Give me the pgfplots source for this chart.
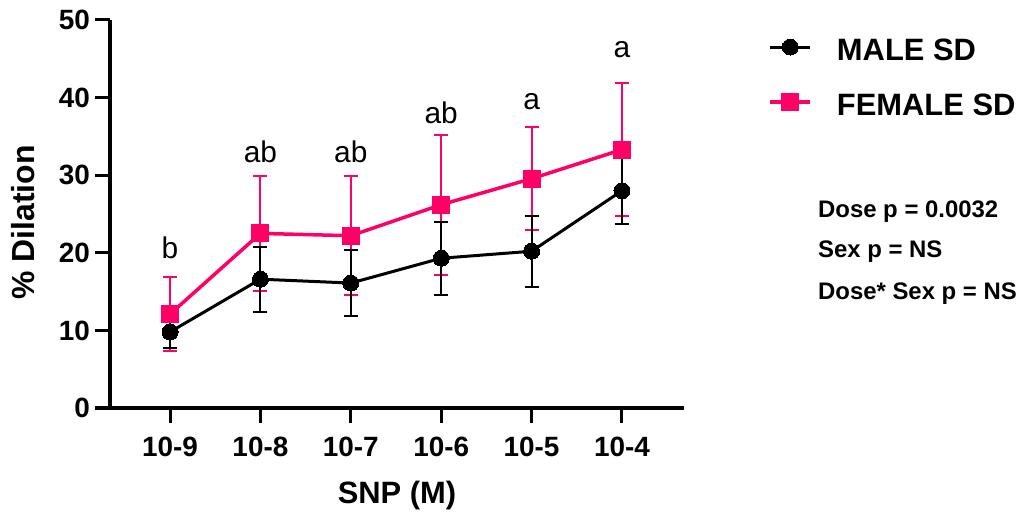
\documentclass[border=0pt]{standalone}
\usepackage{fontspec}
\setmainfont{Liberation Sans}
\usepackage{pgfplots}
\pgfplotsset{compat=1.18}
\definecolor{fpink}{RGB}{255,0,102}

\pgfplotstableread{
x y e
0 9.8 2.1
1 16.6 4.2
2 16.1 4.2
3 19.3 4.7
4 20.2 4.6
5 28.0 4.35
}\male
\pgfplotstableread{
x y e
0 12.1 4.8
1 22.5 7.4
2 22.2 7.7
3 26.2 9.0
4 29.55 6.65
5 33.3 8.55
}\female

\begin{document}
\begin{tikzpicture}
\path[use as bounding box] (0,0) rectangle (1021bp,513bp);
\begin{axis}[
  at={(110bp,105bp)}, anchor=south west,
  scale only axis, width=574bp, height=388bp,
  xmin=-0.664, xmax=5.686, ymin=0, ymax=50,
  axis x line=bottom, axis y line=left,
  axis line style={line width=3bp, -},
  xtick={0,...,5}, xticklabels={10-9,10-8,10-7,10-6,10-5,10-4},
  ytick={0,10,...,50},
  tick align=outside, major tick length=15bp,
  tick style={line width=3bp, black},
  /pgf/number format/assume math mode=true,
  ticklabel style={font=\fontsize{28}{28}\selectfont\bfseries},
  xticklabel style={inner sep=0pt, anchor=north, yshift=-14bp},
  yticklabel style={inner sep=0pt, anchor=east, xshift=-5bp},
  clip=false,
  xlabel={SNP (M)},
  ylabel={\% Dilation},
  every axis x label/.style={at={(rel axis cs:0.5,0)}, anchor=base, yshift=-95bp, inner sep=0pt, font=\fontsize{31}{31}\selectfont\bfseries},
  every axis y label/.style={at={(rel axis cs:-0.1307,0.478)}, rotate=90, anchor=base, inner sep=0pt, font=\fontsize{32}{32}\selectfont\bfseries},
  reverse legend=true,
  legend cell align=left,
  legend image code/.code={\draw[#1, mark repeat=2, mark phase=2] plot coordinates {(0bp,0bp) (20bp,0bp) (40bp,0bp)};},
  legend style={draw=none, fill=none, at={(rel axis cs:1.1472,0.9639)}, anchor=north west,
    inner sep=0pt, outer sep=0pt, row sep=29bp, column sep=25bp,
    font=\fontsize{31}{31}\selectfont\bfseries,
    nodes={inner sep=0pt, text height=26bp, text depth=0bp}},
]
\addplot[color=fpink, line width=3.5bp, mark=square*, mark size=8.5bp, mark options={line width=0pt, fill=fpink},
  error bars/.cd, y dir=both, y explicit,
  error bar style={line width=2bp, fpink},
  error mark options={rotate=90, mark size=7bp, line width=2bp, fpink}]
  table[x=x, y=y, y error=e] {\female};
\addlegendentry{FEMALE SD}
\addplot[color=black, line width=3bp, mark=*, mark size=8bp, mark options={line width=0pt, fill=black},
  error bars/.cd, y dir=both, y explicit,
  error bar style={line width=2bp, black},
  error mark options={rotate=90, mark size=7bp, line width=2bp, black}]
  table[x=x, y=y, y error=e] {\male};
\addlegendentry{MALE SD}

\begin{scope}[every node/.style={anchor=base, inner sep=0pt, font=\fontsize{30}{30}\selectfont}]
\node at (axis cs:0,19.3) {b};
\node at (axis cs:1,31.7) {ab};
\node at (axis cs:2,31.7) {ab};
\node at (axis cs:3,36.7) {ab};
\node at (axis cs:4,38.5) {a};
\node at (axis cs:5,45.2) {a};
\end{scope}
\begin{scope}[every node/.style={anchor=base west, inner sep=0pt, font=\fontsize{24}{24}\selectfont\bfseries}]
\node at (axis cs:7.168,24.61) {Dose p = 0.0032};
\node at (axis cs:7.168,19.33) {Sex p = NS};
\node at (axis cs:7.168,13.92) {Dose* Sex p = NS};
\end{scope}
\end{axis}
\end{tikzpicture}
\end{document}
